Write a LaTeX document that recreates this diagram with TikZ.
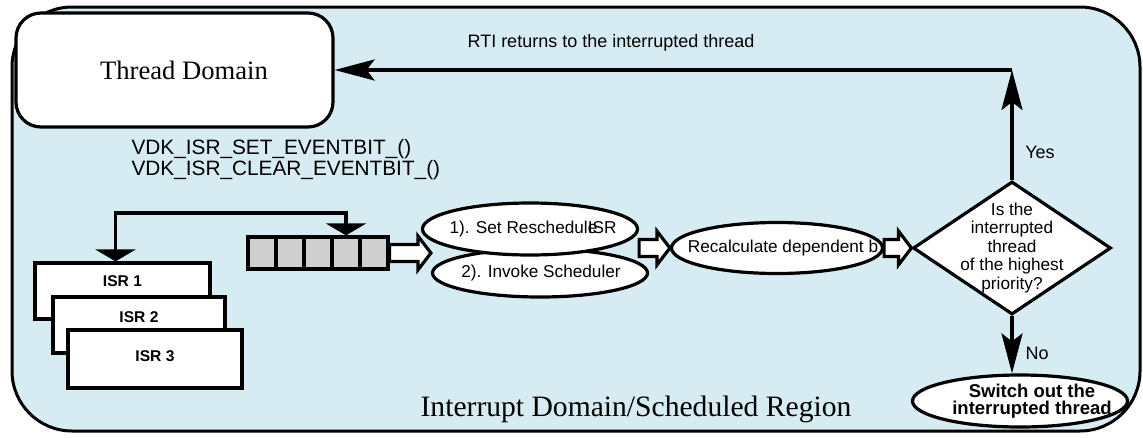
\documentclass[tikz,border=0pt]{standalone}
\usepackage{fontspec}
\setmainfont{Liberation Serif}
\setsansfont{Liberation Sans}
\usetikzlibrary{arrows.meta,positioning,calc,shapes.geometric}
\definecolor{Region}{HTML}{D7EBF3}
\definecolor{Cell}{HTML}{CFCFCF}
% hollow block arrow from #1 to tip #2
\newcommand\hollowarrow[2]{%
  \draw[hollow] ($(#1)+(0,-8.5)$) -- ($(#2)+(-13,-8.5)$) -- ($(#2)+(-13,-17)$)
    -- (#2) -- ($(#2)+(-13,17)$) -- ($(#2)+(-13,8.5)$) -- ($(#1)+(0,8.5)$) -- cycle;}

\begin{document}
\begin{tikzpicture}[x=1pt,y=-1pt,
    threadbox/.style={draw,line width=3.2pt,fill=white,rounded corners=25pt,
      font=\fontsize{26.6}{30}\selectfont},
    regiontitle/.style={font=\fontsize{29.6}{32}\selectfont},
    note/.style={font=\sffamily\fontsize{18}{20}\selectfont},
    api/.style={font=\sffamily\fontsize{20.8}{21}\selectfont,align=left,anchor=west},
    oval/.style={ellipse,draw,line width=3.2pt,fill=white,inner sep=0pt},
    ovaltext/.style={font=\sffamily\fontsize{17.2}{18.5}\selectfont,align=center},
    decision/.style={diamond,draw,line width=3.2pt,fill=white,inner sep=0pt},
    isr/.style={draw,line width=3.2pt,fill=white,inner sep=0pt},
    isrtext/.style={font=\sffamily\bfseries\fontsize{15.6}{17}\selectfont},
    cell/.style={draw,line width=3.2pt,fill=Cell,minimum width=28pt,
      minimum height=32pt,inner sep=0pt},
    hollow/.style={line width=3.2pt,fill=white,draw,line join=miter},
    flow/.style={line width=3.4pt,-{Stealth[length=40pt,width=21pt,inset=8pt]}},
    bracket/.style={line width=3.4pt,
      {Triangle[length=12pt,width=40pt]}-{Triangle[length=12pt,width=40pt]}}
  ]
  \useasboundingbox (0,0) rectangle (1143,437);

  % interrupt region
  \draw[line width=3pt,fill=Region,rounded corners=60pt] (12,7) rectangle (1140,431);
  \node[regiontitle] (region) at (636,409) {Interrupt Domain/Scheduled Region};

  \node[threadbox,minimum width=317pt,minimum height=114pt] (thread) at (174.5,70)
    {\hspace*{19pt}Thread Domain};

  % ISR stack
  \node[isr,minimum width=175pt,minimum height=56pt,
    label={[isrtext,yshift=10pt]center:ISR 1}] (isr1) at (122.5,291) {};
  \node[isr,minimum width=172pt,minimum height=56pt,
    label={[isrtext,yshift=8pt]center:ISR 2}] (isr2) at (139,325) {};
  \node[isr,minimum width=174pt,minimum height=58pt,
    label={[isrtext,yshift=3pt]center:ISR 3}] (isr3) at (155,359) {};

  \node[api] (calls) at (128,160) {VDK\_ISR\_SET\_EVENTBIT\_()\\VDK\_ISR\_CLEAR\_EVENTBIT\_()};

  % event queue
  \foreach \i in {1,...,5}
    \node[cell] (c\i) at (234+28*\i,253) {};
  \coordinate (link) at (c4.north |- 0,213);
  \draw[bracket] ([xshift=-7pt]isr1.north) |- (link) -- (c4.north);

  % scheduler steps
  \node[oval,minimum width=215pt,minimum height=48pt,
    label={[ovaltext,xshift=1pt]center:2). Invoke Scheduler}] (invoke) at (540,273) {};
  \node[oval,minimum width=215pt,minimum height=52pt,
    label={[ovaltext,xshift=3pt]center:1). Set Reschedul\rlap{e}ISR}] (resched) at (530,229) {};
  \node[oval,minimum width=211pt,minimum height=51pt,
    label={[ovaltext,xshift=6pt]center:Recalculate dependent b}] (recalc) at (777,248) {};
  \node[decision,minimum width=198pt,minimum height=133pt,
    label={[ovaltext]center:Is the\\interrupted\\thread\\of the highest\\priority?}] (check) at (1012,248) {};
  \node[oval,minimum width=215pt,minimum height=52pt,
    label={[ovaltext,font=\sffamily\bfseries\fontsize{18.5}{17}\selectfont,xshift=12pt]center:Switch out the\\interrupted thread}]
    (switch) at (1020,401) {};

  \coordinate (tip1) at (c5.east -| invoke.west);
  \hollowarrow{c5.east}{tip1}
  \coordinate (tail2) at (resched.east |- recalc.west);
  \hollowarrow{tail2}{recalc.west}
  \hollowarrow{recalc.east}{check.west}

  % decision outcomes
  \coordinate (turn) at (1012,70);
  \draw[flow] (check.north) -- (turn);
  \draw[flow] (turn) -- (thread.east);
  \node[note] (rti) at (611,43) {RTI returns to the interrupted thread};
  \node[note] (yes) at (1040,152) {Yes};
  \draw[flow] (check.south) -- (check.south |- switch.north);
  \node[note] (no) at (1037,353) {No};
\end{tikzpicture}
\end{document}
